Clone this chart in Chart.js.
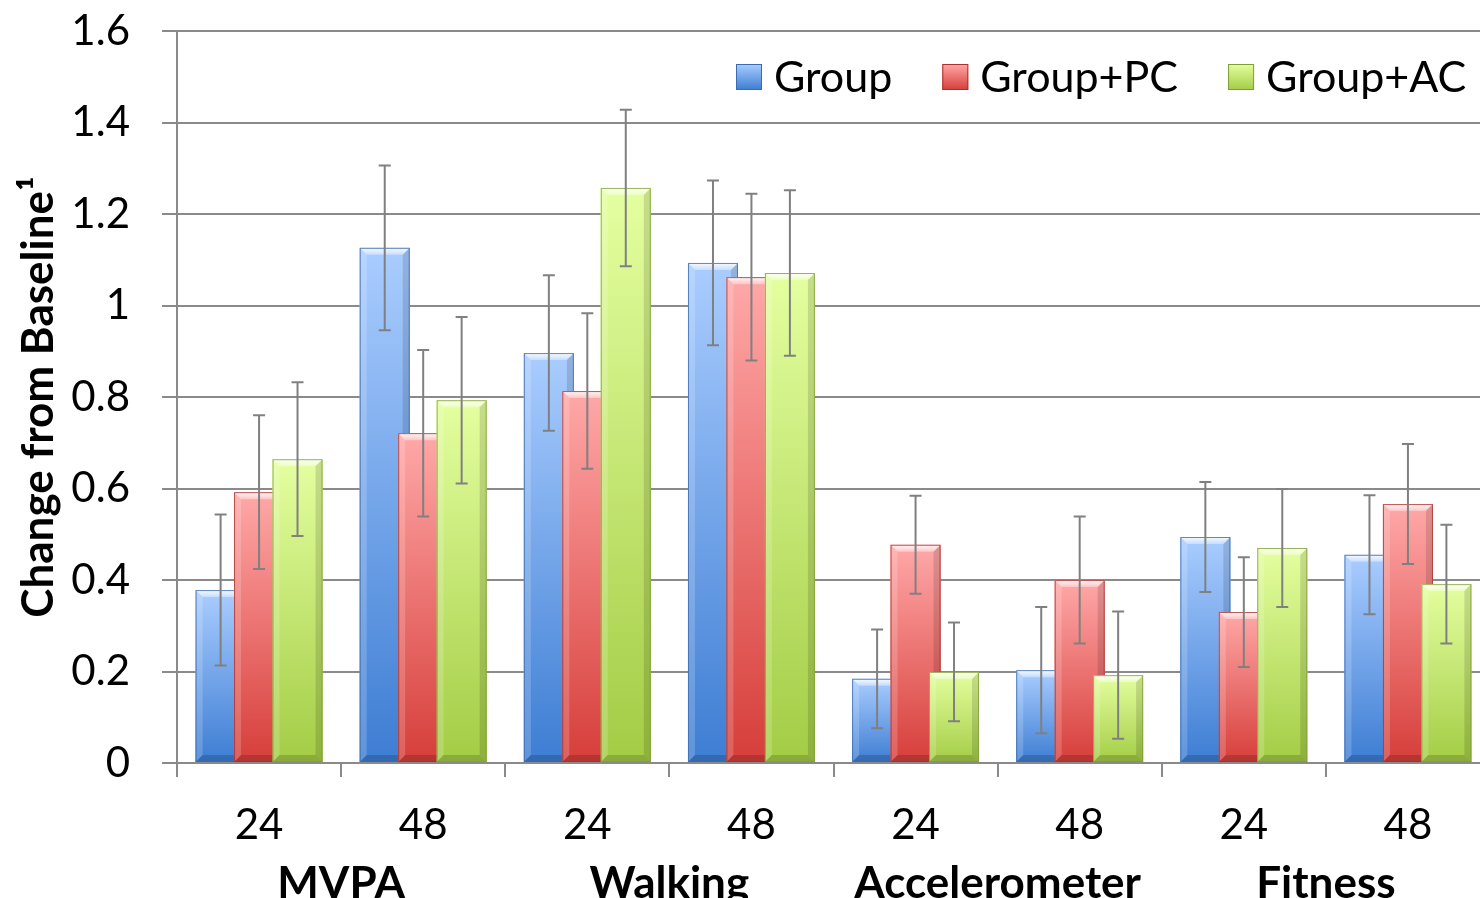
<!DOCTYPE html>
<html><head><meta charset="utf-8">
<script src="https://cdn.jsdelivr.net/npm/chart.js@4.4.1/dist/chart.umd.min.js"></script>
<style>
html,body{margin:0;padding:0;background:#fff;overflow:hidden;width:1480px;height:898px}
#wrap{width:1492px;height:898px;position:relative}
</style></head>
<body><div id="wrap"><canvas id="c" width="1492" height="898"></canvas></div>
<script>
// ---- data ----
const categories = ['24','48','24','48','24','48','24','48'];
const groupNames = ['MVPA','Walking','Accelerometer','Fitness'];
const seriesNames = ['Group','Group+PC','Group+AC'];
const groupVals = [0.378, 1.126, 0.896, 1.093, 0.184, 0.203, 0.494, 0.455];
const groupErr  = [0.165, 0.180, 0.170, 0.180, 0.108, 0.138, 0.120, 0.130];
const pcVals    = [0.592, 0.721, 0.813, 1.062, 0.477, 0.400, 0.330, 0.566];
const pcErr     = [0.168, 0.182, 0.170, 0.182, 0.107, 0.139, 0.120, 0.131];
const acVals    = [0.664, 0.793, 1.257, 1.071, 0.199, 0.192, 0.470, 0.391];
const acErr     = [0.168, 0.182, 0.171, 0.181, 0.108, 0.139, 0.129, 0.130];
const yTicks    = [0, 0.2, 0.4, 0.6, 0.8, 1, 1.2, 1.4, 1.6];

// ---- styles ----
const palette = [
  {top:'#aacdff', bot:'#3d7dd3', edge:'#3b6bb0'},
  {top:'#ffa8a8', bot:'#d63e3a', edge:'#a8312e'},
  {top:'#e4ffa0', bot:'#a3cc45', edge:'#7f9f35'}
];
const FONT = 'Lato';
Chart.defaults.font.family = FONT;
Chart.defaults.color = '#000';

function gradFill(i) {
  return (ctx) => {
    const chart = ctx.chart, ys = chart.scales.y;
    if (!ys || ctx.type !== 'data' || ctx.raw == null) return palette[i].bot;
    const t = ys.getPixelForValue(ctx.raw), b = ys.getPixelForValue(0);
    if (!isFinite(t) || !isFinite(b) || t === b) return palette[i].bot;
    const g = chart.ctx.createLinearGradient(0, t, 0, b);
    g.addColorStop(0, palette[i].top);
    g.addColorStop(1, palette[i].bot);
    return g;
  };
}

function drawBevel(ctx, el, edge) {
  const p = el.getProps(['x','y','base','width'], true);
  const l = p.x - p.width/2, r = p.x + p.width/2, t = Math.min(p.y, p.base), b = Math.max(p.y, p.base);
  const bv = Math.min(7, (b - t)/2);
  ctx.save();
  let g = ctx.createLinearGradient(0, t, 0, t + bv);
  g.addColorStop(0, 'rgba(255,255,255,0.9)');
  g.addColorStop(1, 'rgba(255,255,255,0.35)');
  ctx.fillStyle = g;
  ctx.beginPath(); ctx.moveTo(l,t); ctx.lineTo(r,t); ctx.lineTo(r-bv,t+bv); ctx.lineTo(l+bv,t+bv); ctx.closePath(); ctx.fill();
  ctx.fillStyle = 'rgba(255,255,255,0.18)';
  ctx.beginPath(); ctx.moveTo(l,t); ctx.lineTo(l+bv,t+bv); ctx.lineTo(l+bv,b-bv); ctx.lineTo(l,b); ctx.closePath(); ctx.fill();
  ctx.fillStyle = 'rgba(0,0,0,0.13)';
  ctx.beginPath(); ctx.moveTo(r,t); ctx.lineTo(r-bv,t+bv); ctx.lineTo(r-bv,b-bv); ctx.lineTo(r,b); ctx.closePath(); ctx.fill();
  ctx.fillStyle = 'rgba(0,0,0,0.16)';
  ctx.beginPath(); ctx.moveTo(l,b); ctx.lineTo(r,b); ctx.lineTo(r-bv,b-bv); ctx.lineTo(l+bv,b-bv); ctx.closePath(); ctx.fill();
  ctx.strokeStyle = edge; ctx.globalAlpha = 0.8; ctx.lineWidth = 1;
  ctx.strokeRect(l + 0.5, t + 0.5, p.width - 1, b - t - 1);
  ctx.restore();
}

const errs = [groupErr, pcErr, acErr];

const barsAndErrors = {
  id: 'barsAndErrors',
  afterDatasetsDraw(chart) {
    const ctx = chart.ctx, ys = chart.scales.y;
    const area = chart.chartArea;
    ctx.save();
    ctx.beginPath(); ctx.rect(area.left, area.top - 60, area.right - area.left, area.bottom - area.top + 60); ctx.clip();
    // redraw bars so later series overlap earlier ones
    for (let i = 0; i < chart.data.datasets.length; i++) {
      const meta = chart.getDatasetMeta(i);
      meta.data.forEach(el => { el.draw(ctx, area); drawBevel(ctx, el, palette[i].edge); });
    }
    // error bars
    ctx.strokeStyle = '#808080'; ctx.lineWidth = 2;
    for (let i = 0; i < chart.data.datasets.length; i++) {
      const meta = chart.getDatasetMeta(i);
      const vals = chart.data.datasets[i].data;
      meta.data.forEach((el, j) => {
        const x = el.x;
        const hi = ys.getPixelForValue(vals[j] + errs[i][j]);
        const lo = ys.getPixelForValue(vals[j] - errs[i][j]);
        const cap = 6;
        ctx.beginPath();
        ctx.moveTo(x, hi); ctx.lineTo(x, lo);
        ctx.moveTo(x - cap, hi); ctx.lineTo(x + cap, hi);
        ctx.moveTo(x - cap, lo); ctx.lineTo(x + cap, lo);
        ctx.stroke();
      });
    }
    ctx.restore();
  },
  afterDraw(chart) {
    // legend
    const ctx = chart.ctx;
    ctx.save();
    ctx.font = '43px ' + FONT;
    ctx.textBaseline = 'middle';
    let x = 736; const cy = 77, box = 26;
    chart.data.datasets.forEach((ds, i) => {
      const g = ctx.createLinearGradient(0, cy - box/2, 0, cy + box/2);
      g.addColorStop(0, palette[i].top); g.addColorStop(1, palette[i].bot);
      ctx.fillStyle = g;
      ctx.fillRect(x, cy - box/2, box, box);
      ctx.strokeStyle = palette[i].edge; ctx.lineWidth = 1;
      ctx.strokeRect(x + 0.5, cy - box/2 + 0.5, box - 1, box - 1);
      ctx.fillStyle = '#000';
      ctx.fillText(ds.label, x + box + 12, cy + 1);
      x += box + 12 + ctx.measureText(ds.label).width + 50;
    });
    ctx.restore();
  }
};

const valueSets = [groupVals, pcVals, acVals];
new Chart(document.getElementById('c'), {
  type: 'bar',
  data: {
    labels: categories,
    datasets: seriesNames.map((name, i) => ({
      label: name,
      data: valueSets[i],
      backgroundColor: gradFill(i),
      borderWidth: 0,
      categoryPercentage: 0.703,
      barPercentage: 1.3
    }))
  },
  options: {
    responsive: false,
    devicePixelRatio: 1,
    animation: false,
    layout: { padding: { top: 0, right: 2, bottom: 0, left: 0 } },
    plugins: { legend: { display: false }, tooltip: { enabled: false } },
    scales: {
      x: {
        type: 'category',
        offset: true,
        weight: 0,
        grid: { display: true, drawOnChartArea: false, drawTicks: true, tickLength: 14, color: '#8a8a8a', lineWidth: 2, offset: true },
        border: { display: true, color: '#8a8a8a', width: 2 },
        ticks: { font: { size: 42 }, color: '#000', padding: 23, maxRotation: 0, autoSkip: false },
        afterFit: s => { s.height = 86; }
      },
      x2: {
        type: 'category',
        labels: groupNames,
        position: 'bottom',
        offset: true,
        weight: 1,
        grid: { display: false },
        border: { display: false },
        ticks: { font: { size: 44, weight: 'bold' }, color: '#000', padding: 0, maxRotation: 0, autoSkip: false },
        afterFit: s => { s.height = 49; }
      },
      y: {
        min: yTicks[0],
        max: yTicks[yTicks.length - 1],
        afterBuildTicks: s => { s.ticks = yTicks.map(v => ({ value: v })); },
        grid: { color: '#8a8a8a', lineWidth: 2, drawTicks: true, tickLength: 15 },
        border: { display: true, color: '#8a8a8a', width: 2 },
        ticks: { font: { size: 42 }, color: '#000', padding: 32, callback: v => String(+Number(v).toFixed(1)) },
        title: { display: true, text: 'Change from Baseline¹', font: { size: 44, weight: 'bold' }, color: '#000', padding: { top: 12, bottom: 0 } },
        afterFit: s => { s.width = 177; s.paddingTop = 31; s.paddingBottom = 0; }
      }
    }
  },
  plugins: [barsAndErrors]
});
</script>
</body></html>
